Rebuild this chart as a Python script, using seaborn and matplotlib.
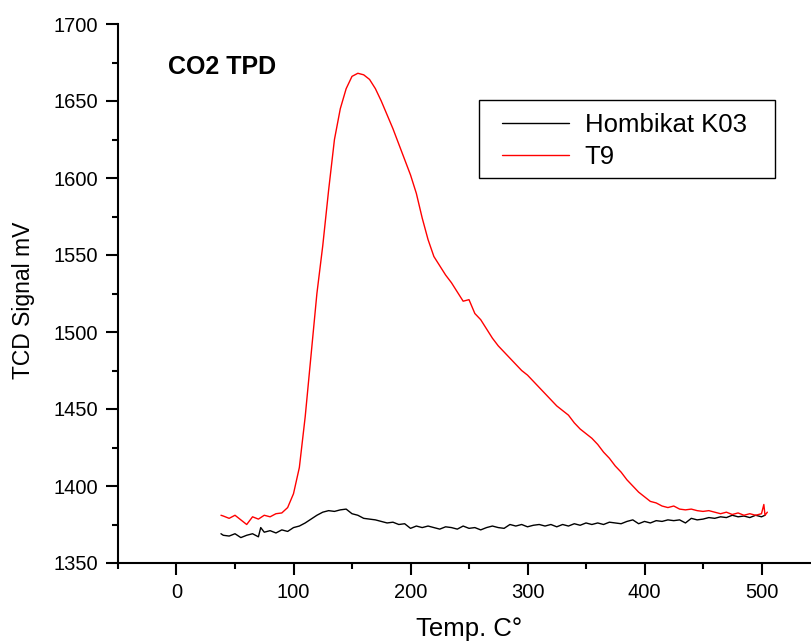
import numpy as np
import pandas as pd
import matplotlib
matplotlib.use("Agg")
import matplotlib.pyplot as plt
import seaborn as sns
from matplotlib.ticker import MultipleLocator
from matplotlib.patches import Rectangle

# ---- data ----
t9_temp = [38, 40, 45, 50, 55, 60, 65, 70, 75, 80, 85, 90, 95, 100, 105, 110, 115, 120,
           125, 130, 135, 140, 145, 150, 155, 160, 165, 170, 175, 180, 185, 190, 195, 200,
           205, 210, 215, 220, 225, 230, 235, 240, 245, 250, 255, 260, 265, 270, 275, 280,
           285, 290, 295, 300, 305, 310, 315, 320, 325, 330, 335, 340, 345, 350, 355, 360,
           365, 370, 375, 380, 385, 390, 395, 400, 405, 410, 415, 420, 425, 430, 435, 440,
           445, 450, 455, 460, 465, 470, 475, 480, 485, 490, 495, 500, 502, 503, 505]
t9_signal = [1381, 1380.5, 1379, 1381, 1378, 1375, 1380, 1378.5, 1381, 1380, 1382, 1382.5,
             1386, 1395, 1412, 1445, 1485, 1525, 1556, 1592, 1625, 1645, 1658, 1666, 1668,
             1667, 1664, 1658, 1650, 1641, 1632, 1622, 1612, 1602, 1590, 1574, 1560, 1549,
             1543, 1537, 1532, 1526, 1520, 1521, 1512, 1508, 1502, 1496, 1491, 1487, 1483,
             1479, 1475, 1472, 1468, 1464, 1460, 1456, 1452, 1449, 1446, 1441, 1437, 1434,
             1431, 1427, 1422, 1418, 1413, 1409, 1404, 1400, 1396, 1393, 1390, 1389, 1387,
             1386, 1387, 1385, 1384.5, 1385, 1384, 1383.5, 1384, 1383, 1382, 1383, 1381.5,
             1382.5, 1381, 1382, 1381, 1382, 1388, 1381, 1383]

k03_temp = [38, 40, 45, 50, 55, 60, 65, 70, 72, 75, 80, 85, 90, 95, 100, 105, 110, 115,
            120, 125, 130, 135, 140, 145, 150, 155, 160, 165, 170, 175, 180, 185, 190, 195,
            200, 205, 210, 215, 220, 225, 230, 235, 240, 245, 250, 255, 260, 265, 270, 275,
            280, 285, 290, 295, 300, 305, 310, 315, 320, 325, 330, 335, 340, 345, 350, 355,
            360, 365, 370, 375, 380, 385, 390, 395, 400, 405, 410, 415, 420, 425, 430, 435,
            440, 445, 450, 455, 460, 465, 470, 475, 480, 485, 490, 495, 500, 503]
k03_signal = [1369, 1368, 1367.5, 1369, 1366.5, 1368, 1369, 1367, 1373, 1370, 1371, 1369.5,
              1371.5, 1370.5, 1373, 1374, 1376, 1378.5, 1381, 1383, 1384, 1383.5, 1384.5,
              1385, 1382, 1381, 1379, 1378.5, 1378, 1377, 1376, 1376.5, 1375, 1375.5, 1372.5,
              1374, 1373, 1374, 1373, 1372, 1373.5, 1373, 1372, 1374, 1372.5, 1373, 1371.5,
              1373, 1374, 1373, 1372.5, 1375, 1374, 1375, 1373.5, 1374.5, 1375, 1374, 1375,
              1373.5, 1375, 1374, 1375.5, 1374.5, 1376, 1375, 1376, 1375, 1376.5, 1376,
              1375.5, 1377, 1378, 1375.5, 1377, 1376, 1377.5, 1377, 1378, 1377.5, 1378, 1376,
              1379, 1378, 1378.5, 1379.5, 1379, 1380, 1379.5, 1381, 1380, 1380.5, 1379.5,
              1381, 1380, 1381]

series_names = ["Hombikat K03", "T9"]
series_colors = ["black", "red"]

df = pd.concat([
    pd.DataFrame({"temp": k03_temp, "signal": k03_signal, "sample": series_names[0]}),
    pd.DataFrame({"temp": t9_temp, "signal": t9_signal, "sample": series_names[1]}),
])

sns.set_theme(style="ticks")
plt.rcParams["font.family"] = ["Liberation Sans", "DejaVu Sans"]
plt.rcParams["text.color"] = "black"
plt.rcParams["axes.labelcolor"] = "black"
plt.rcParams["xtick.color"] = "black"
plt.rcParams["ytick.color"] = "black"

W, H = 812, 644
fig = plt.figure(figsize=(W / 100, H / 100), dpi=100)
ax = fig.add_axes([118 / W, 1 - 563 / H, 702 / W, 539 / H])

sns.lineplot(data=df, x="temp", y="signal", hue="sample", hue_order=series_names,
             palette=dict(zip(series_names, series_colors)), linewidth=1.0,
             ax=ax, sort=False, estimator=None)

ax.set_xlim(-50, 550)
ax.set_ylim(1350, 1700)
ax.xaxis.set_major_locator(MultipleLocator(100))
ax.xaxis.set_minor_locator(MultipleLocator(50))
ax.yaxis.set_major_locator(MultipleLocator(50))
ax.yaxis.set_minor_locator(MultipleLocator(25))
ax.tick_params(which="major", direction="out", length=8.5, width=1.5, labelsize=14.5,
               colors="black", pad=6)
ax.tick_params(which="minor", direction="out", length=4.3, width=1.5)
for s in ["left", "bottom"]:
    ax.spines[s].set_linewidth(1.5)
    ax.spines[s].set_color("black")
ax.spines["top"].set_visible(False)
ax.spines["right"].set_visible(False)

ax.set_xlabel("Temp. C°", fontsize=18.5, labelpad=11)
ax.set_ylabel("TCD Signal mV", fontsize=16.5, labelpad=13)
ax.yaxis.set_label_coords(-0.118, 0.487)

ax.text(0.071, 0.92, "CO2 TPD", transform=ax.transAxes, fontsize=18,
        fontweight="bold", va="center", ha="left")

# legend frame drawn as a plain rectangle, legend entries without frame
fig.patches.append(Rectangle((479 / W, 1 - 178 / H), (775 - 479) / W, (178 - 100) / H,
                             transform=fig.transFigure, fill=False, edgecolor="black",
                             linewidth=1.0, zorder=5))
leg = ax.legend(loc="upper left", bbox_to_anchor=(502 / W, 1 - 113 / H),
                bbox_transform=fig.transFigure, borderaxespad=0, borderpad=0,
                fontsize=18.5, frameon=False, handlelength=2.6, handletextpad=0.62,
                labelspacing=0.33, title=None)
for h in leg.get_lines():
    h.set_linewidth(1.0)

fig.savefig("out.png", dpi=100)
